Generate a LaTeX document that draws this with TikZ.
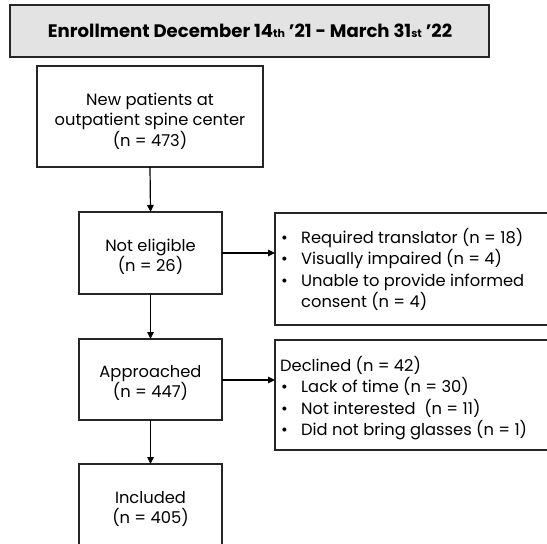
\documentclass[tikz,border=0pt]{standalone}
\usepackage{fontspec}
\setmainfont{Poppins}
\usetikzlibrary{arrows.meta}
\tikzset{
  flowbox/.style={draw=black!85, line width=1.5pt, rectangle, inner sep=0pt},
  flowtext/.style={font=\fontsize{16.3}{20.5}\selectfont, align=center, inner sep=0pt},
  sidetext/.style={font=\fontsize{16.3}{21.5}\selectfont, align=left, inner sep=0pt, anchor=north west},
  flowarrow/.style={line width=1.2pt, -{Triangle[length=7pt,width=6.5pt]}},
}
\newcommand{\bulitem}[1]{\makebox[21pt][l]{\hspace{1pt}\textbullet}#1}
\newcommand{\bulcont}[1]{\hspace{21pt}#1}
\newcommand{\ordsuf}[1]{{\fontsize{11}{12}\selectfont #1}}
\newcommand{\sq}{\char"27\relax}
\begin{document}
\begin{tikzpicture}[x=1pt,y=-1pt]
  \useasboundingbox (0,0) rectangle (547,544);
  \clip (0,0) rectangle (547,544);

  % title bar
  \draw[flowbox, fill=black!11] (10,5) rectangle (489,57);
  \node[font=\bfseries\fontsize{18.1}{22}\selectfont, inner sep=0pt] (title) at (250,31)
    {Enrollment December 14\ordsuf{th} \sq21 - March 31\ordsuf{st} \sq22};

  % main column boxes
  \draw[flowbox] (37,66) rectangle (263,167);
  \node[flowtext] (new) at (150,121) {New patients at\\outpatient spine center\\(n = 473)};
  \coordinate (newB) at (150,167);

  \draw[flowbox] (79,212) rectangle (222,294);
  \node[flowtext] (noel) at (150.5,257) {Not eligible\\(n = 26)};
  \coordinate (noelT) at (150.5,212);
  \coordinate (noelB) at (150.5,294);
  \coordinate (noelR) at (222,253);

  \draw[flowbox] (79,339) rectangle (222,420);
  \node[flowtext] (appr) at (150.5,383) {Approached\\(n = 447)};
  \coordinate (apprT) at (150.5,339);
  \coordinate (apprB) at (150.5,420);
  \coordinate (apprR) at (222,380);

  \draw[flowbox] (79,464) rectangle (222,560);
  \node[flowtext] (incl) at (150.5,509) {Included\\(n = 405)};
  \coordinate (inclT) at (150.5,464);

  % side boxes
  \draw[flowbox] (275,213) rectangle (560,325);
  \coordinate (exclL) at (275,253);
  \node[sidetext] (excl) at (280,228)
    {\bulitem{Required translator (n = 18)}\\
     \bulitem{Visually impaired (n = 4)}\\
     \bulitem{Unable to provide informed}\\
     \bulcont{consent (n = 4)}};

  \draw[flowbox] (275,340) rectangle (560,450);
  \coordinate (declL) at (275,380);
  \node[sidetext] (decl) at (280,356)
    {Declined (n = 42)\\
     \bulitem{Lack of time (n = 30)}\\
     \bulitem{Not interested\ \ (n = 11)}\\
     \bulitem{Did not bring glasses (n = 1)}};

  % connectors
  \draw[flowarrow] (newB) -- (noelT);
  \draw[flowarrow] (noelB) -- (apprT);
  \draw[flowarrow] (apprB) -- (inclT);
  \draw[flowarrow] (noelR) -- (exclL);
  \draw[flowarrow] (apprR) -- (declL);
\end{tikzpicture}
\end{document}
